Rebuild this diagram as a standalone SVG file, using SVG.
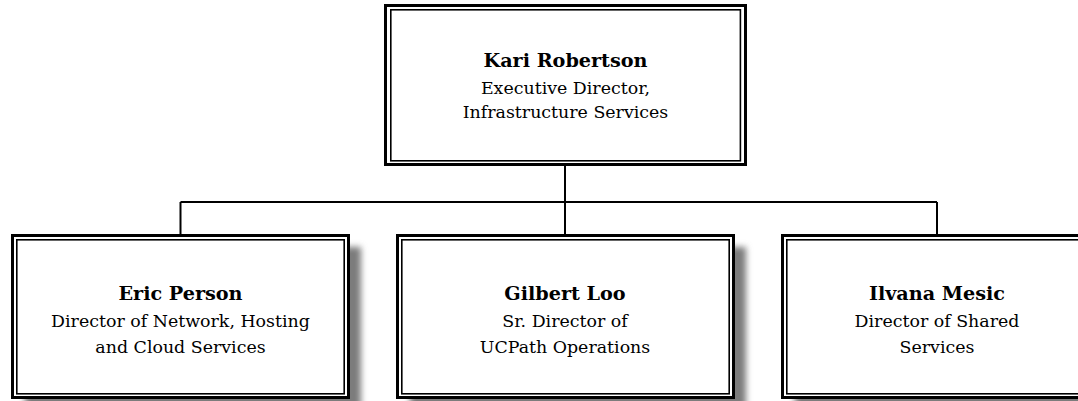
<svg xmlns="http://www.w3.org/2000/svg" width="1078" height="401" viewBox="0 0 1078 401">
  <defs>
    <filter id="shadow" x="-10%" y="-10%" width="130%" height="130%">
      <feGaussianBlur stdDeviation="3"/>
    </filter>
  </defs>
  <style>
    .outer { fill: #ffffff; stroke: #000000; stroke-width: 3; }
    .inner { fill: none; stroke: #000000; stroke-width: 1.6; }
    .shadow { fill: #7c7c7c; filter: url(#shadow); }
    .name { font-family: "DejaVu Serif", "Liberation Serif", serif; font-weight: bold; font-size: 19.2px; text-anchor: middle; fill: #000; }
    .title { font-family: "DejaVu Serif", "Liberation Serif", serif; font-size: 17.4px; text-anchor: middle; fill: #000; }
    .conn { fill: none; stroke: #000000; stroke-width: 2; }
  </style>
  <rect width="1078" height="401" fill="#ffffff"/>
  <g id="connectors">
    <path class="conn" d="M565 166 V202"/>
    <path class="conn" d="M180.5 202 H937"/>
    <path class="conn" d="M180.5 202 V234"/>
    <path class="conn" d="M565 202 V234"/>
    <path class="conn" d="M937 202 V234"/>
  </g>
  <g id="node-kari">
    <rect class="outer" x="385.5" y="5.5" width="360" height="159"/>
    <rect class="inner" x="390.8" y="9.8" width="349.6" height="151"/>
    <text class="name" x="565.5" y="67">Kari Robertson</text>
    <text class="title" x="565.5" y="93.5">Executive Director,</text>
    <text class="title" x="565.5" y="118">Infrastructure Services</text>
  </g>
  <g id="node-eric">
    <rect class="shadow" x="25" y="247" width="336" height="162"/>
    <rect class="outer" x="12.5" y="235.5" width="336" height="162"/>
    <rect class="inner" x="16.8" y="239.8" width="327.4" height="154"/>
    <text class="name" x="180.5" y="300">Eric Person</text>
    <text class="title" x="180.5" y="326.5">Director of Network, Hosting</text>
    <text class="title" x="180.5" y="353">and Cloud Services</text>
  </g>
  <g id="node-gilbert">
    <rect class="shadow" x="410" y="247" width="336" height="162"/>
    <rect class="outer" x="397.5" y="235.5" width="336" height="162"/>
    <rect class="inner" x="401.8" y="239.8" width="327.4" height="154"/>
    <text class="name" x="565" y="300">Gilbert Loo</text>
    <text class="title" x="565" y="326.5">Sr. Director of</text>
    <text class="title" x="565" y="353">UCPath Operations</text>
  </g>
  <g id="node-ilvana">
    <rect class="shadow" x="795" y="247" width="336" height="162"/>
    <rect class="outer" x="782.5" y="235.5" width="336" height="162"/>
    <rect class="inner" x="786.8" y="239.8" width="327.4" height="154"/>
    <text class="name" x="937" y="300">Ilvana Mesic</text>
    <text class="title" x="937" y="326.5">Director of Shared</text>
    <text class="title" x="937" y="353">Services</text>
  </g>
</svg>
